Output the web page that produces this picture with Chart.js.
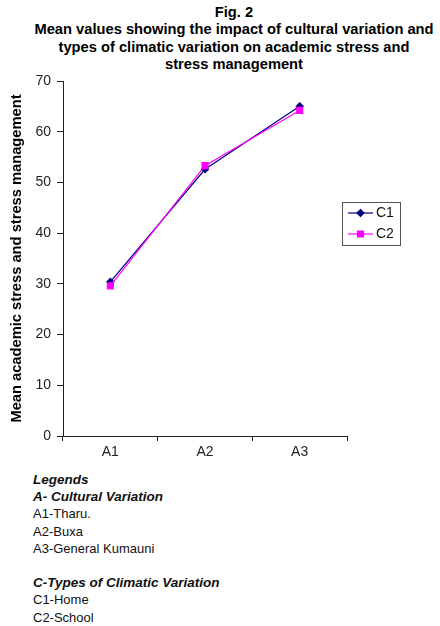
<!DOCTYPE html>
<html lang="en">
<head>
    <meta charset="UTF-8">
    <title>Fig. 2</title>
    <script src="https://cdn.jsdelivr.net/npm/chart.js"></script>
    <style>
        body { margin: 0; background: #fff; font-family: "Liberation Sans", Arial, sans-serif; color: #000; }
        #wrap { position: relative; width: 440px; height: 626px; }
        #title { position: absolute; top: 4px; left: 24px; width: 420px; text-align: center;
                 font-weight: bold; font-size: 14.7px; line-height: 17.3px; }
        #chartBox { position: absolute; top: 0; left: 0; width: 440px; height: 470px; }
        #notes { position: absolute; top: 471px; left: 33px; font-size: 13px; line-height: 17.2px; color: #111; }
        #notes b { font-style: italic; font-size: 13.5px; }
    </style>
</head>
<body>
<div id="wrap">
    <div id="title">Fig. 2<br>Mean values showing the impact of cultural variation and<br>types of climatic variation on academic stress and<br>stress management</div>
    <div id="chartBox"><canvas id="fig2" width="440" height="470"></canvas></div>
    <div id="notes">
        <b>Legends</b><br>
        <b>A- Cultural Variation</b><br>
        A1-Tharu.<br>
        A2-Buxa<br>
        A3-General Kumauni<br>
        <br>
        <b>C-Types of Climatic Variation</b><br>
        C1-Home<br>
        C2-School
    </div>
</div>
<script>
    // values
    const cultures = ['A1', 'A2', 'A3'];
    const homeMeans = [30.4, 52.6, 65.0];    // C1
    const schoolMeans = [29.6, 53.3, 64.2];  // C2
    const yTicks = [0, 10, 20, 30, 40, 50, 60, 70];

    const font = { family: '"Liberation Sans", Arial, sans-serif', size: 14 };

    // small boxed legend on the right, like the original
    const boxLegend = {
        id: 'boxLegend',
        afterDraw(chart) {
            const ctx = chart.ctx;
            const x = 342, y = 202, w = 58, h = 43;
            ctx.save();
            ctx.strokeStyle = '#555';
            ctx.lineWidth = 1;
            ctx.strokeRect(x + 0.5, y + 0.5, w, h);
            chart.data.datasets.forEach((ds, i) => {
                const cy = y + 11 + i * 21;
                ctx.strokeStyle = ds.borderColor;
                ctx.lineWidth = 1.2;
                ctx.beginPath();
                ctx.moveTo(x + 6, cy);
                ctx.lineTo(x + 31, cy);
                ctx.stroke();
                Chart.helpers.drawPoint(ctx, {
                    pointStyle: ds.pointStyle, radius: ds.pointRadius, borderWidth: 1
                }, x + 18.5, cy);
                ctx.fillStyle = ds.borderColor;
                ctx.fill();
                ctx.fillStyle = '#111';
                ctx.font = '14px "Liberation Sans", Arial, sans-serif';
                ctx.textBaseline = 'middle';
                ctx.fillText(ds.label, x + 34, cy + 0.5);
            });
            ctx.restore();
        }
    };

    new Chart(document.getElementById('fig2'), {
        type: 'line',
        data: {
            labels: cultures,
            datasets: [{
                label: 'C1',
                data: homeMeans,
                borderColor: '#000080',
                backgroundColor: '#000080',
                borderWidth: 1.2,
                pointStyle: 'rectRot',
                pointRadius: 3.5,
                tension: 0,
                order: 1
            }, {
                label: 'C2',
                data: schoolMeans,
                borderColor: '#ff00ff',
                backgroundColor: '#ff00ff',
                borderWidth: 1.2,
                pointStyle: 'rect',
                pointRadius: 4.2,
                tension: 0,
                order: 0
            }]
        },
        options: {
            responsive: false,
            animation: false,
            layout: { padding: { top: 81, right: 93, bottom: 4, left: 0 } },
            plugins: {
                legend: { display: false },
                tooltip: { enabled: false }
            },
            scales: {
                x: {
                    offset: true,
                    afterFit: s => { s.height = 30; },
                    grid: { offset: true, drawOnChartArea: false, drawTicks: true, tickLength: 5, color: '#222' },
                    border: { display: true, color: '#222', width: 1 },
                    ticks: { color: '#222', font: font, padding: 3 }
                },
                y: {
                    min: 0,
                    max: 70,
                    afterFit: s => { s.width = 63; },
                    afterBuildTicks: s => { s.ticks = yTicks.map(v => ({ value: v })); },
                    grid: { drawOnChartArea: false, drawTicks: true, tickLength: 6, color: '#222' },
                    border: { display: true, color: '#222', width: 1 },
                    ticks: { color: '#222', font: font, padding: 6 },
                    title: {
                        display: true,
                        text: 'Mean academic stress and stress management',
                        color: '#000',
                        font: { family: font.family, size: 14.7, weight: 'bold' },
                        padding: { top: 8, bottom: 0 }
                    }
                }
            }
        },
        plugins: [boxLegend]
    });
</script>
</body>
</html>
